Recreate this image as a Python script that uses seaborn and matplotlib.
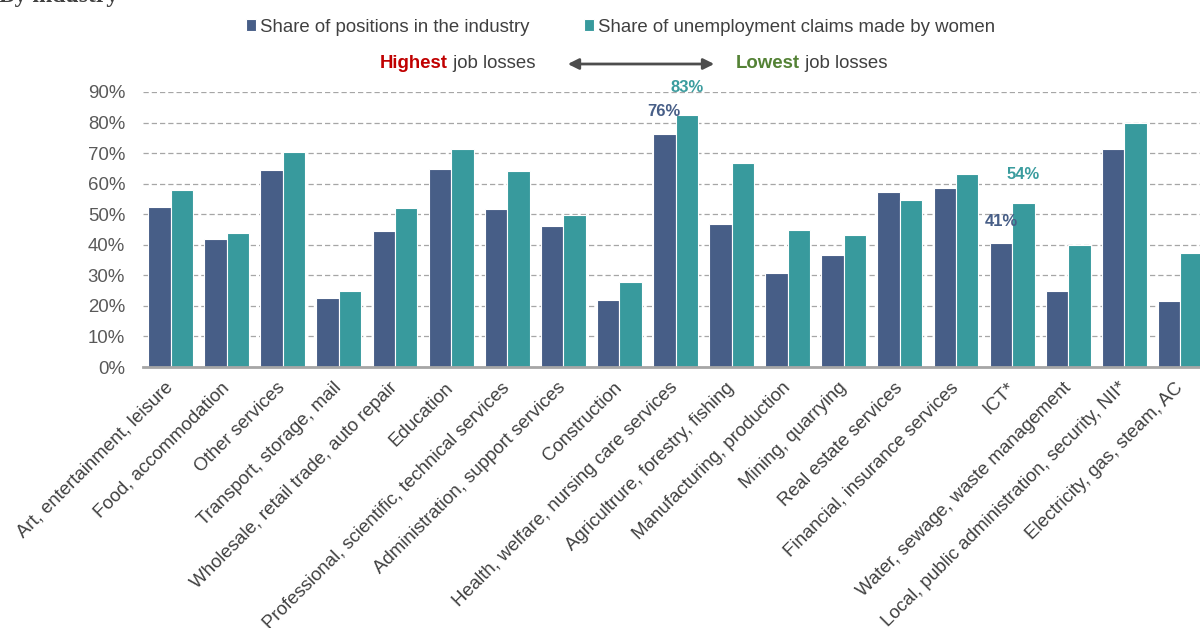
import matplotlib
matplotlib.use("Agg")
import matplotlib.pyplot as plt
import pandas as pd
import seaborn as sns

# Industries ordered from highest to lowest job losses
industries = [
    "Art, entertainment, leisure",
    "Food, accommodation",
    "Other services",
    "Transport, storage, mail",
    "Wholesale, retail trade, auto repair",
    "Education",
    "Professional, scientific, technical services",
    "Administration, support services",
    "Construction",
    "Health, welfare, nursing care services",
    "Agricultrure, forestry, fishing",
    "Manufacturing, production",
    "Mining, quarrying",
    "Real estate services",
    "Financial, insurance services",
    "ICT*",
    "Water, sewage, waste management",
    "Local, public administration, security, NII*",
    "Electricity, gas, steam, AC",
]

# Women's share (%) of positions in each industry
share_positions = [52.5, 41.8, 64.6, 22.6, 44.5, 64.8, 51.8, 46.2, 21.9, 76.3,
                   46.8, 30.8, 36.5, 57.4, 58.7, 40.7, 24.8, 71.2, 21.5]
# Women's share (%) of unemployment claims in each industry
share_claims = [57.8, 43.8, 70.4, 25.0, 52.1, 71.5, 64.0, 49.9, 27.9, 82.6,
                66.9, 44.7, 43.3, 54.7, 63.3, 53.6, 40.0, 79.8, 37.2]

series_names = ["Share of positions in the industry",
                "Share of unemployment claims made by women"]
y_ticks = [0, 10, 20, 30, 40, 50, 60, 70, 80, 90]
labelled = ["Health, welfare, nursing care services", "ICT*"]

NAVY = "#475E87"
TEAL = "#389A9D"
GRID = "#A6A6A6"
TXT = "#404040"
FS = 13.4

df = pd.DataFrame({
    "Industry": industries * 2,
    "Share": share_positions + share_claims,
    "Series": [series_names[0]] * len(industries) + [series_names[1]] * len(industries),
})

sns.set_style("white")
plt.rcParams["font.family"] = ["Liberation Sans", "DejaVu Sans"]

W, H = 1200, 628
fig = plt.figure(figsize=(W / 100, H / 100), dpi=100)


def fx(px):
    return px / W


def fy(py):
    return 1 - py / H


ax = fig.add_axes([fx(142.5), fy(367), fx(1208.5 - 142.5), fy(92) - fy(367)])

sns.barplot(data=df, x="Industry", y="Share", hue="Series",
            order=industries, hue_order=series_names,
            palette=[NAVY, TEAL], width=0.8, edgecolor="white",
            linewidth=0.8, saturation=1, ax=ax)

ax.set_xlim(-0.5, len(industries) - 0.5)
ax.set_ylim(0, 90)
ax.set_yticks(y_ticks)
ax.set_yticklabels([f"{t}%" for t in y_ticks], fontsize=FS, color="#595959")
ax.set_xticks(range(len(industries)))
ax.set_xticklabels(industries, rotation=45, ha="right", va="center",
                   rotation_mode="anchor", fontsize=FS, color=TXT)
ax.tick_params(axis="y", length=0, pad=12.5)
ax.tick_params(axis="x", length=0, pad=13)
ax.set_xlabel("")
ax.set_ylabel("")

ax.set_axisbelow(True)
ax.yaxis.grid(True, color=GRID, linewidth=0.9, linestyle=(0, (4.2, 2.4)))
for side in ("left", "right", "top"):
    ax.spines[side].set_visible(False)
ax.spines["bottom"].set_color(GRID)
ax.spines["bottom"].set_linewidth(2)

# Legend across the top
sns.move_legend(ax, "center", bbox_to_anchor=(fx(620.5), fy(27)),
                bbox_transform=fig.transFigure, ncol=2, frameon=False,
                title=None, fontsize=FS, handlelength=0.55, handleheight=0.55,
                handletextpad=0.2, columnspacing=2.9)
for t in ax.get_legend().get_texts():
    t.set_color(TXT)

# Value labels on the highlighted industries
offsets = {("Health, welfare, nursing care services", 0): 22,
           ("Health, welfare, nursing care services", 1): 27,
           ("ICT*", 0): 21,
           ("ICT*", 1): 29}
series_vals = [share_positions, share_claims]
series_cols = [NAVY, "#3A9C9E"]
for s in range(2):
    for name in labelled:
        i = industries.index(name)
        v = series_vals[s][i]
        x = i + (-0.2 if s == 0 else 0.2)
        ax.annotate(f"{v:.0f}%", xy=(x, v), xytext=(0, offsets[(name, s)]),
                    textcoords="offset pixels", ha="center", va="center",
                    fontsize=12, fontweight="bold", color=series_cols[s])

# Direction marker: highest to lowest job losses
t1 = fig.text(fx(380), fy(64), "Highest", fontsize=FS, fontweight="bold",
              color="#C00000", ha="left", va="center")
ax.annotate(" job losses", xy=(1, 0.5), xycoords=t1, ha="left", va="center",
            fontsize=FS, color=TXT, annotation_clip=False)
t2 = fig.text(fx(736), fy(64), "Lowest", fontsize=FS, fontweight="bold",
              color="#548235", ha="left", va="center")
ax.annotate(" job losses", xy=(1, 0.5), xycoords=t2, ha="left", va="center",
            fontsize=FS, color=TXT, annotation_clip=False)
fig.patches.append(matplotlib.patches.FancyArrowPatch(
    (fx(565), fy(64)), (fx(717), fy(64)), transform=fig.transFigure,
    arrowstyle="<|-|>", mutation_scale=16, color="#4D4D4D", linewidth=2))

# Section heading
fig.text(-0.001, fy(2), "By industry", fontsize=17, fontweight="bold",
         family=["Liberation Serif", "DejaVu Serif"], color=TXT,
         ha="left", va="baseline")

fig.savefig("out.png", dpi=100)
